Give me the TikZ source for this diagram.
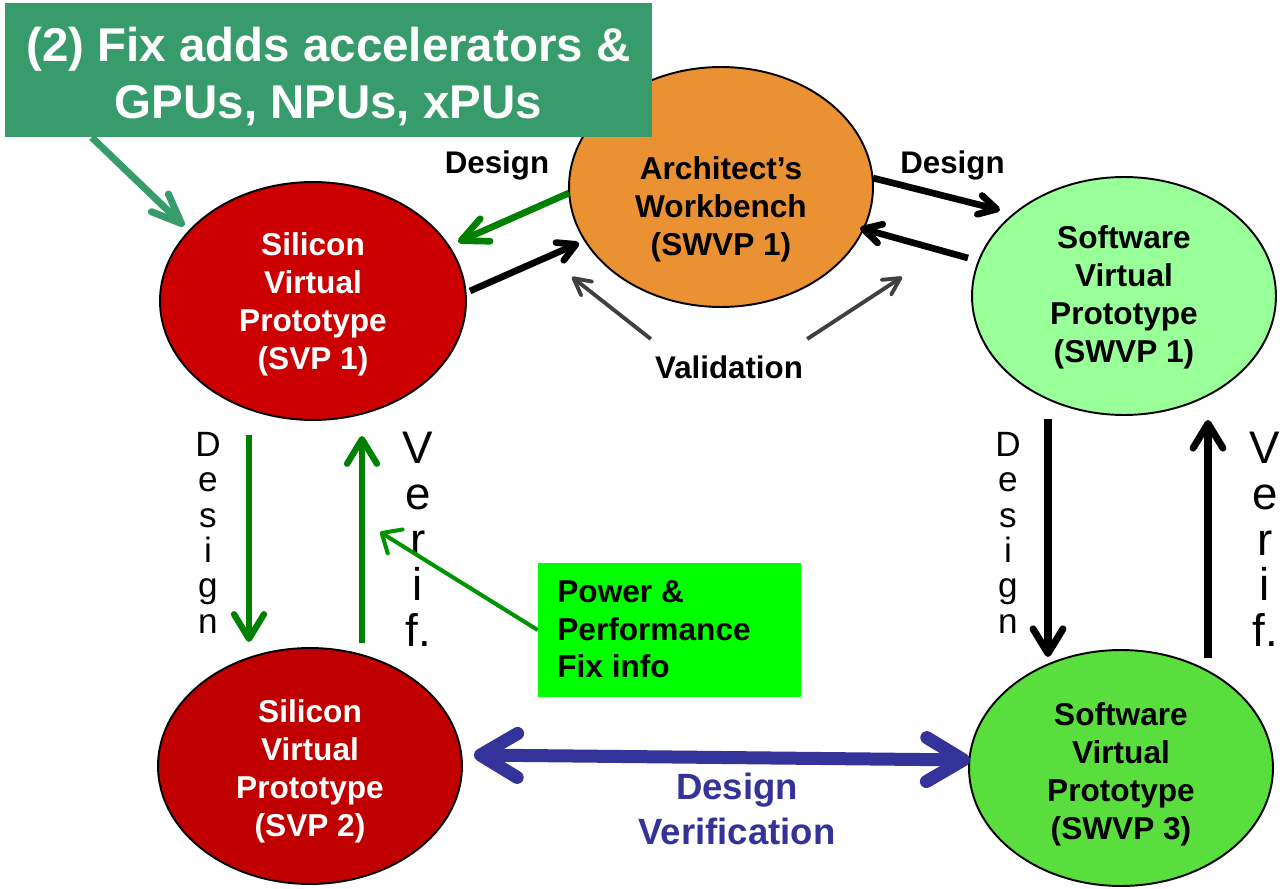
\documentclass[tikz,border=0pt]{standalone}
\usepackage{fontspec}
\setmainfont{Liberation Sans}
\usetikzlibrary{shapes.geometric,arrows.meta,calc}
\definecolor{bannergreen}{HTML}{389B6B}
\definecolor{bannerarrowc}{HTML}{379C6B}
\definecolor{svpredA}{HTML}{CC0000}
\definecolor{svpredB}{HTML}{C00000}
\definecolor{orangeA}{HTML}{EA9233}
\definecolor{lightgreenA}{HTML}{99FF99}
\definecolor{midgreenA}{HTML}{59DE3E}
\definecolor{powergreen}{HTML}{00FF00}
\definecolor{darkgreenA}{HTML}{008000}
\definecolor{powerarrowc}{HTML}{009400}
\definecolor{grayA}{HTML}{404040}
\definecolor{blueA}{HTML}{333399}
\tikzset{
  ell/.style={ellipse, draw=black, line width=1.1pt, inner sep=0pt, minimum width=6.08cm, minimum height=4.76cm},
  lbl/.style={inner sep=0pt, align=center, font=\fontsize{18pt}{21.7pt}\selectfont\bfseries, anchor=north},
  smalllbl/.style={inner sep=0pt, font=\fontsize{17.8pt}{21pt}\selectfont\bfseries, anchor=base},
  vertA/.style={inner sep=0pt, align=center, font=\fontsize{20pt}{20.1pt}\selectfont, anchor=north},
  vertB/.style={inner sep=0pt, align=center, font=\fontsize{26pt}{26pt}\selectfont, anchor=north},
  garrow/.style={draw=darkgreenA, line width=3.8pt, -{Straight Barb[length=15pt,width=14pt,round]}},
  garrowV/.style={draw=darkgreenA, line width=3.6pt, -{Straight Barb[length=14pt,width=17pt,round]}},
  karrow/.style={draw=black, line width=3.8pt, -{Straight Barb[length=10pt,width=11pt,round]}},
  karrowV/.style={draw=black, line width=4pt, -{Straight Barb[length=14pt,width=17pt,round]}},
  grayarrow/.style={draw=grayA, line width=2.2pt, -{Straight Barb[length=9.5pt,width=10pt,round]}},
  bannerarr/.style={draw=bannerarrowc, line width=4pt, -{Straight Barb[length=17pt,width=14pt,round]}},
  parrow/.style={draw=powerarrowc, line width=2.3pt, -{Straight Barb[length=9pt,width=16pt,round]}},
  bluearr/.style={draw=blueA, line width=7.4pt, {Straight Barb[length=21pt,width=25pt,round]}-{Straight Barb[length=21pt,width=25pt,round]}}
}
\begin{document}
\begin{tikzpicture}[x=0.02cm,y=-0.02cm]
\useasboundingbox[fill=white] (0,0) rectangle (1286,889);

% ellipses
\node[ell, fill=svpredA, minimum width=6.12cm] (svp1) at (313,301) {};
\node[lbl, text=white] (svp1t) at (313,232) {Silicon\\Virtual\\Prototype\\(SVP 1)};
\node[ell, fill=orangeA, minimum height=4.8cm] (arch) at (721,187) {};
\node[lbl] (archt) at (721,156) {Architect’s\\Workbench\\(SWVP 1)};
\node[ell, fill=lightgreenA] (swvp1) at (1124,296) {};
\node[lbl] (swvp1t) at (1124,225) {Software\\Virtual\\Prototype\\(SWVP 1)};
\node[ell, fill=svpredB, minimum height=4.72cm] (svp2) at (310,766) {};
\node[lbl, text=white] (svp2t) at (310,699) {Silicon\\Virtual\\Prototype\\(SVP 2)};
\node[ell, fill=midgreenA, minimum height=4.72cm] (swvp3) at (1121,768) {};
\node[lbl] (swvp3t) at (1121,702) {Software\\Virtual\\Prototype\\(SWVP 3)};

% banner
\node[fill=bannergreen, minimum width=12.94cm, minimum height=2.68cm, inner sep=0pt] (banner) at (328.5,70) {};
\node[text=white, font=\fontsize{27pt}{32.3pt}\selectfont\bfseries, align=center, inner sep=0pt, anchor=north] (bannert) at (328.5,27) {(2) Fix adds accelerators \&\\GPUs, NPUs, xPUs};

% power box
\node[fill=powergreen, minimum width=5.26cm, minimum height=2.68cm, inner sep=0pt] (power) at (669.5,630) {};
\node[font=\fontsize{18pt}{21.5pt}\selectfont\bfseries, align=left, inner sep=0pt, anchor=north west] (powert) at (557,580) {Power \&\\Performance\\Fix info};

% labels
\node[smalllbl] (d1) at (497,173) {Design};
\node[smalllbl] (d2) at (952.5,173) {Design};
\node[smalllbl] (val) at (729,378) {Validation};
\node[font=\fontsize{20.8pt}{25.5pt}\selectfont\bfseries, text=blueA, align=center, inner sep=0pt, anchor=north] (dv) at (737,773) {Design\\Verification};

\node[vertA] (vd1) at (208,432) {D\\e\\s\\i\\g\\n};
\node[vertB] (vv1) at (418,432) {V\\e\\r\\i\\f.};
\node[vertA] (vd2) at (1008,432) {D\\e\\s\\i\\g\\n};
\node[vertB] (vv2) at (1265,432) {V\\e\\r\\i\\f.};

% connectors
\draw[bannerarr] ($(banner.south west)+(87,0)$) -- ($(svp1)+(-129,-75)$);
\draw[garrow] ($(arch)+(-152,6)$) -- ($(svp1)+(145,-59)$);
\draw[karrow] ($(svp1)+(157,-10)$) -- ($(arch)+(-142,56)$);
\draw[karrow] ($(arch)+(152,-9)$) -- ($(swvp1)+(-124,-86)$);
\draw[karrow] ($(swvp1)+(-156,-38)$) -- ($(arch)+(139,41)$);
\coordinate (vtipL) at (572,277);
\coordinate (vtipR) at (902,277);
\draw[grayarrow] ($(val.north west)+(-4,-16)$) -- (vtipL);
\draw[grayarrow] ($(val.north east)+(4,-16)$) -- (vtipR);
\draw[garrowV] ($(svp1)+(-64,134)$) -- ($(svp2)+(-61,-124)$);
\draw[garrowV] ($(svp2)+(52,-123)$) -- ($(svp1)+(49,135)$);
\coordinate (ptip) at (380,532);
\draw[parrow] (power.west) -- (ptip);
\draw[karrowV] ($(swvp1)+(-76,123)$) -- ($(swvp3)+(-73,-111)$);
\draw[karrowV] ($(swvp3)+(87,-110)$) -- ($(swvp1)+(84,124)$);
\draw[bluearr] ($(svp2)+(164,-11)$) -- ($(swvp3)+(-151,-8)$);
\end{tikzpicture}
\end{document}
